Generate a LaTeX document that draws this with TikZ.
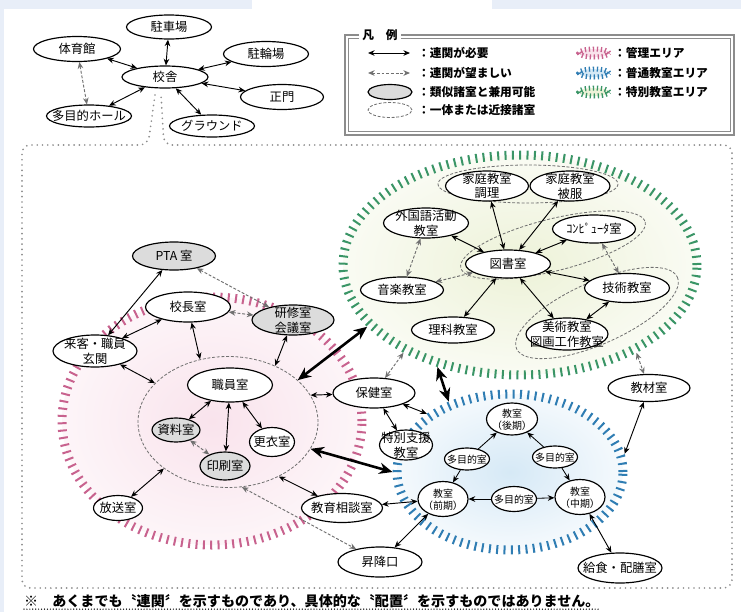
\documentclass[tikz,border=0pt]{standalone}
\usepackage{fontspec}
\setmainfont{Noto Sans CJK JP}
\usetikzlibrary{shapes.geometric,arrows.meta}

\definecolor{pinktick}{HTML}{C8628E}
\definecolor{pinkfill}{HTML}{F9E3EC}
\definecolor{bluetick}{HTML}{2F7DB3}
\definecolor{bluefill}{HTML}{D6E9F6}
\definecolor{greentick}{HTML}{3A9566}
\definecolor{greenfill}{HTML}{EDF2D8}
\definecolor{sharegray}{HTML}{DCDCDC}
\definecolor{wishgray}{HTML}{707070}
\definecolor{framegray}{HTML}{8C8C8C}
\definecolor{band}{HTML}{E8EEF8}

% text of a room, kept out of the ellipse size
\newcommand{\roomtxt}[1]{\makebox[0pt]{\raisebox{-0.4em}[0pt][0pt]{\begin{tabular}{@{}c@{}}#1\end{tabular}}}}

\begin{document}
\begin{tikzpicture}[x=0.3mm, y=-0.3mm, >={Stealth[length=2mm,width=1.7mm]},
	room/.style={ellipse, draw, line width=1pt, fill=white, inner sep=0pt,
		minimum width=25.2mm, minimum height=8.1mm, font=\fontsize{10.5pt}{11.5pt}\selectfont},
	shared/.style={room, fill=sharegray},
	wh/.style 2 args={minimum width=#1*0.3mm, minimum height=#2*0.3mm},
	smalltext/.style={font=\fontsize{8.5pt}{9.5pt}\selectfont},
	link/.style={<->, line width=0.8pt},
	onelink/.style={->, line width=0.7pt},
	boldlink/.style={<->, >={Stealth[length=4mm,width=3.4mm]}, line width=2.2pt},
	wish/.style={<->, draw=wishgray, dash pattern=on 2.5pt off 1.5pt, line width=0.8pt},
	group/.style={draw=wishgray, dash pattern=on 2.5pt off 1.5pt, line width=0.7pt},
	area/.style={ellipse, inner sep=0pt, line width=2.7mm, dash pattern=on 0.6mm off 1.6mm},
	legtext/.style={anchor=west, inner sep=0pt, font=\bfseries\fontsize{10pt}{11pt}\selectfont},
	frame/.style={draw=framegray, dash pattern=on 0pt off 4.5pt, line cap=round, line width=1.6pt},
]
	\useasboundingbox (0,0) rectangle (741,612);
	\fill[white] (0,0) rectangle (741,612);
	\fill[band] (0,0) rectangle (252,9);
	\fill[band] (492,0) rectangle (741,9);
	\fill[band] (0,9) rectangle (4,612);

	% areas
	\node[area, draw=pinktick, inner color=pinkfill, outer color=pinkfill!35, wh={300}{248}] (pink) at (212,421) {};
	\node[area, draw=greentick, inner color=greenfill, outer color=greenfill!30, wh={354}{220}] (green) at (520,265) {};
	\node[area, draw=bluetick, inner color=bluefill, outer color=bluefill!25, wh={226}{156}] (blue) at (510,472) {};

	% rooms kept together
	\node[ellipse, group, inner sep=0pt, wh={180}{131}] (staff) at (228,422) {};
	\draw[group] (528,184) ellipse [x radius=90, y radius=19];
	\draw[group, rotate around={14:(553,245)}] (553,245) ellipse [x radius=95, y radius=26];
	\draw[group, rotate around={24:(597,313)}] (597,313) ellipse [x radius=88, y radius=31];

	% callout from the school building
	\draw[frame, rounded corners=2.5mm] (155,95) -- (148,145) -- (22,145) -- (22,588)
		-- (732,588) -- (732,145) -- (164,145) -- (161,95);

	% campus
	\node[room, wh={86}{22}] (kosha) at (165,77) {\roomtxt{校舎}};
	\node[room, wh={85}{24}] (chusha) at (169,27) {\roomtxt{駐車場}};
	\node[room, wh={87}{25}] (taiiku) at (77,49) {\roomtxt{体育館}};
	\node[room, wh={85}{25}] (churin) at (266,54) {\roomtxt{駐輪場}};
	\node[room, wh={83}{25}] (seimon) at (282,97) {\roomtxt{正門}};
	\node[room, wh={85}{22}] (hall) at (89,116) {\roomtxt{多目的ホール}};
	\node[room, wh={85}{22}] (ground) at (212,126) {\roomtxt{グラウンド}};

	% special classrooms
	\node[room, wh={83}{30}] (katei1) at (487,186) {\roomtxt{家庭教室\\調理}};
	\node[room, wh={80}{30}] (katei2) at (570,186) {\roomtxt{家庭教室\\被服}};
	\node[room, wh={85}{30}] (gaikoku) at (426,223) {\roomtxt{外国語活動\\教室}};
	\node[room, wh={83}{28}] (pc) at (594,229) {\roomtxt{ｺﾝﾋﾟｭｰﾀ室}};
	\node[room, wh={85}{28}] (tosho) at (508,264) {\roomtxt{図書室}};
	\node[room, wh={83}{26}] (ongaku) at (402,290) {\roomtxt{音楽教室}};
	\node[room, wh={85}{29}] (gijutsu) at (627,288) {\roomtxt{技術教室}};
	\node[room, wh={83}{26}] (rika) at (453,330) {\roomtxt{理科教室}};
	\node[room, wh={82}{32}] (bijutsu) at (567,334) {\roomtxt{美術教室\\図画工作教室}};

	% management
	\node[shared, wh={83}{28}] (pta) at (174,256) {\roomtxt{PTA 室}};
	\node[room, wh={85}{30}] (kocho) at (188,307) {\roomtxt{校長室}};
	\node[shared, wh={82}{30}] (kenshu) at (293,320) {\roomtxt{研修室\\会議室}};
	\node[room, wh={84}{32}] (genkan) at (95,351) {\roomtxt{来客・職員\\玄関}};
	\node[room, wh={85}{34}] (shokuin) at (230,385) {\roomtxt{職員室}};
	\node[shared, wh={48}{24}] (shiryo) at (176,430) {\roomtxt{資料室}};
	\node[room, wh={45}{29}] (koui) at (272,442) {\roomtxt{更衣室}};
	\node[shared, wh={50}{28}] (insatsu) at (225,466) {\roomtxt{印刷室}};
	\node[room, wh={49}{25}] (hoso) at (118,508) {\roomtxt{放送室}};

	% others
	\node[room, wh={82}{30}] (hoken) at (374,393) {\roomtxt{保健室}};
	\node[room, wh={53}{30}] (tokubetsu) at (406,445) {\roomtxt{特別支援\\教室}};
	\node[room, wh={81}{29}] (soudan) at (342,508) {\roomtxt{教育相談室}};
	\node[room, wh={84}{30}] (shoko) at (380,562) {\roomtxt{昇降口}};
	\node[room, wh={82}{27}] (kyozai) at (649,388) {\roomtxt{教材室}};
	\node[room, wh={84}{30}] (kyushoku) at (620,568) {\roomtxt{給食・配膳室}};

	% ordinary classrooms
	\node[room, smalltext, wh={51}{32}] (kouki) at (512,419) {\roomtxt{教室\\（後期）}};
	\node[room, smalltext, wh={45}{22}] (tamoku1) at (467,459) {\roomtxt{多目的室}};
	\node[room, smalltext, wh={45}{22}] (tamoku2) at (555,457) {\roomtxt{多目的室}};
	\node[room, smalltext, wh={50}{35}] (zenki) at (443,499) {\roomtxt{教室\\（前期）}};
	\node[room, smalltext, wh={45}{25}] (tamoku3) at (514,499) {\roomtxt{多目的室}};
	\node[room, smalltext, wh={50}{35}] (chuki) at (580,497) {\roomtxt{教室\\（中期）}};

	% campus links
	\draw[link] (kosha) -- (chusha);
	\draw[link] (kosha) -- (taiiku);
	\draw[link] (kosha) -- (churin);
	\draw[link] (kosha) -- (seimon);
	\draw[link] (kosha) -- (hall);
	\draw[link] (kosha) -- (ground);
	\draw[wish] (taiiku) -- (hall);

	% special classrooms
	\draw[link] (tosho) -- (gaikoku);
	\draw[link] (tosho) -- (katei1);
	\draw[link] (tosho) -- (katei2);
	\draw[link] (tosho) -- (pc);
	\draw[link] (tosho) -- (gijutsu);
	\draw[link] (tosho) -- (rika);
	\draw[link] (tosho) -- (bijutsu);
	\draw[link] (gijutsu) -- (bijutsu);
	\draw[wish] (gaikoku) -- (ongaku);
	\draw[wish] (tosho) -- (ongaku);
	\draw[wish] (pc) -- (gijutsu);

	% management
	\draw[link] (pta) -- (genkan);
	\draw[link] (kocho) -- (genkan);
	\draw[wish] (pta) -- (kenshu);
	\draw[wish] (kocho) -- (kenshu);
	\draw[link] (kocho) -- (staff.114);
	\draw[link] (kenshu) -- (staff.50);
	\draw[link] (genkan) -- (staff.152);
	\draw[link] (shokuin) -- (shiryo);
	\draw[link] (shokuin) -- (insatsu);
	\draw[link] (shokuin) -- (koui);
	\draw[wish] (shiryo) -- (insatsu);
	\draw[link] (hoso) -- (staff.216);

	% between areas
	\draw[boldlink] (green.202) -- (staff.31);
	\draw[boldlink] (staff.342) -- (blue.180);
	\draw[boldlink] (green.231) -- (blue.131);
	\draw[link] (hoken) -- (staff.18);
	\draw[wish] (green.217) -- (hoken);
	\draw[link] (hoken) -- (tokubetsu);
	\draw[link] (hoken) -- (blue.145);
	\draw[link] (soudan) -- (zenki);
	\draw[link] (soudan) -- (staff.313);
	\draw[link] (shoko) -- (zenki);
	\draw[wish] (staff.282) -- (shoko);
	\draw[wish] (green.323) -- (kyozai);
	\draw[link] (kyozai) -- (blue.9);
	\draw[link] (chuki) -- (kyushoku);

	% ordinary classrooms
	\draw[onelink] (tamoku1) -- (kouki);
	\draw[onelink] (tamoku1) -- (zenki);
	\draw[onelink] (tamoku2) -- (kouki);
	\draw[onelink] (tamoku2) -- (chuki);
	\draw[onelink] (tamoku3) -- (zenki);
	\draw[onelink] (tamoku3) -- (chuki);

	% legend
	\draw[framegray, line width=1.1pt] (345,35) rectangle (734,135);
	\draw[framegray, line width=0.6pt] (348.5,38.5) rectangle (730.5,131.5);
	\node[fill=white, inner xsep=3pt, font=\bfseries\fontsize{10pt}{11pt}\selectfont] (legtitle) at (380,35) {凡　例};
	\coordinate (leg1a) at (368,53);
	\coordinate (leg1b) at (410,53);
	\coordinate (leg2a) at (368,73);
	\coordinate (leg2b) at (410,73);
	\draw[link] (leg1a) -- (leg1b);
	\draw[wish] (leg2a) -- (leg2b);
	\node[shared, wh={44}{15}] (leg3) at (390,92) {};
	\node[ellipse, group, inner sep=0pt, wh={44}{15}] (leg4) at (390,110) {};
	\node[legtext] (leg1t) at (418,53) {：連関が必要};
	\node[legtext] (leg2t) at (418,73) {：連関が望ましい};
	\node[legtext] (leg3t) at (418,92) {：類似諸室と兼用可能};
	\node[legtext] (leg4t) at (418,110) {：一体または近接諸室};
	\node[area, line width=1.5mm, dash pattern=on 0.4mm off 0.8mm, draw=pinktick, fill=pinkfill, wh={30}{8}] (leg5) at (594,53) {};
	\node[area, line width=1.5mm, dash pattern=on 0.4mm off 0.8mm, draw=bluetick, fill=bluefill, wh={30}{8}] (leg6) at (594,73) {};
	\node[area, line width=1.5mm, dash pattern=on 0.4mm off 0.8mm, draw=greentick, fill=greenfill, wh={30}{8}] (leg7) at (594,92) {};
	\node[legtext] (leg5t) at (614,53) {：管理エリア};
	\node[legtext] (leg6t) at (614,73) {：普通教室エリア};
	\node[legtext] (leg7t) at (614,92) {：特別教室エリア};

	% note
	\node[anchor=west, inner sep=0pt, font=\bfseries\fontsize{12pt}{13pt}\selectfont] (note) at (24,601)
		{※　あくまでも〝連関〞を示すものであり、具体的な〝配置〞を示すものではありません。};
	\draw[dash pattern=on 0pt off 2.5pt, line cap=round, line width=1.2pt] ([yshift=-1pt]note.south west) -- ([yshift=-1pt]note.south east);
\end{tikzpicture}
\end{document}
